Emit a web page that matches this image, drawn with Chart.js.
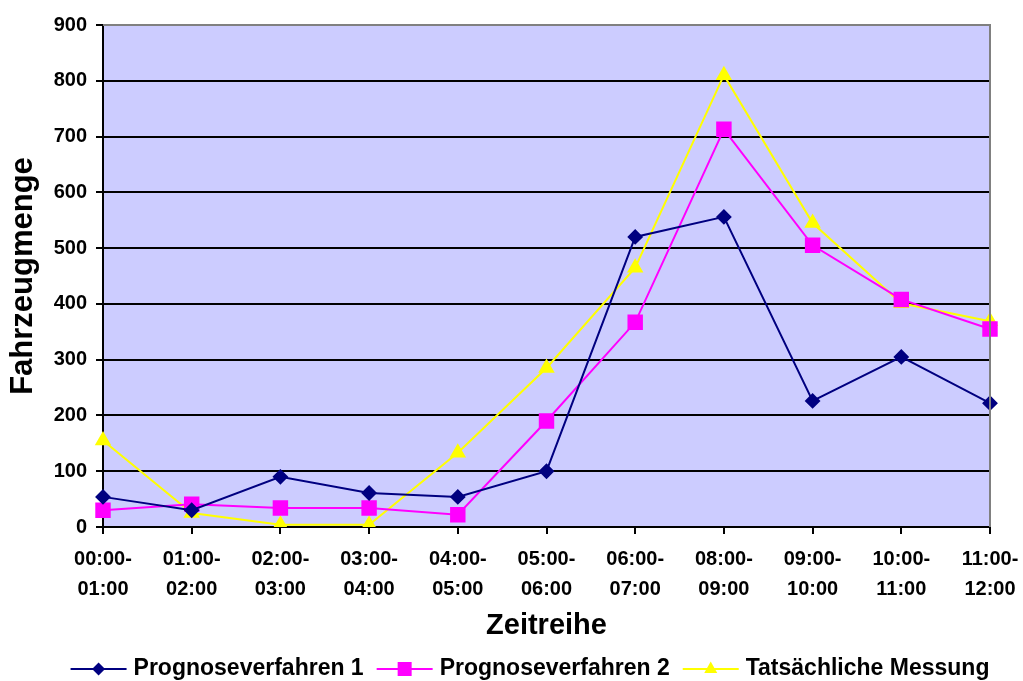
<!DOCTYPE html>
<html>
<head>
<meta charset="utf-8">
<script src="https://cdn.jsdelivr.net/npm/chart.js@4.4.1/dist/chart.umd.min.js"></script>
<style>
  html, body { margin: 0; padding: 0; background: #fff; }
  #wrap { width: 1023px; height: 681px; }
</style>
</head>
<body>
<div id="wrap"><canvas id="chart"></canvas></div>
<script>
// data
const zeiten = [["00:00-", "01:00"], ["01:00-", "02:00"], ["02:00-", "03:00"], ["03:00-", "04:00"], ["04:00-", "05:00"], ["05:00-", "06:00"], ["06:00-", "07:00"], ["08:00-", "09:00"], ["09:00-", "10:00"], ["10:00-", "11:00"], ["11:00-", "12:00"]];
const prognose1 = [54, 30, 90, 61, 54, 100, 520, 556, 226, 305, 222];
const prognose2 = [30, 41, 34, 34, 22, 190, 367, 713, 505, 408, 355];
const messung = [155, 25, 4, 4, 133, 285, 465, 810, 545, 401, 369];
const yTicks = [0, 100, 200, 300, 400, 500, 600, 700, 800, 900];

const FONT = "'Liberation Sans', Arial, sans-serif";

function drawMarker(ctx, style, x, y) {
  ctx.beginPath();
  if (style === "rectRot") {
    ctx.moveTo(x, y - 6.5); ctx.lineTo(x + 6.5, y); ctx.lineTo(x, y + 6.5); ctx.lineTo(x - 6.5, y);
  } else if (style === "rect") {
    ctx.rect(x - 7, y - 7, 14, 14);
  } else {
    ctx.moveTo(x, y - 7.5); ctx.lineTo(x + 6.5, y + 4); ctx.lineTo(x - 6.5, y + 4);
  }
  ctx.closePath();
  ctx.fill();
}

const plotBg = {
  id: "plotBg",
  beforeDraw(chart) {
    const { ctx, chartArea: { left, top, right, bottom } } = chart;
    ctx.save();
    ctx.fillStyle = "#CCCCFF";
    ctx.fillRect(left, top, right - left, bottom - top);
    ctx.restore();
  },
  afterDatasetsDraw(chart) {
    const { ctx, chartArea: { left, top, right, bottom } } = chart;
    ctx.save();
    ctx.strokeStyle = "#808080";
    ctx.lineWidth = 2;
    ctx.beginPath();
    ctx.moveTo(left, top);
    ctx.lineTo(right, top);
    ctx.lineTo(right, bottom);
    ctx.stroke();
    ctx.restore();
  },
  // legend like the excel one: line with marker, then the name
  afterDraw(chart) {
    const ctx = chart.ctx;
    const y = 669;
    ctx.save();
    ctx.font = "bold 23px " + FONT;
    ctx.textBaseline = "middle";
    const items = chart.data.datasets;
    let total = 0;
    items.forEach((ds, i) => {
      total += 56 + 7 + ctx.measureText(ds.label).width + (i < items.length - 1 ? 13 : 0);
    });
    let x = 530 - total / 2;
    items.forEach(ds => {
      ctx.strokeStyle = ds.borderColor;
      ctx.fillStyle = ds.borderColor;
      ctx.lineWidth = 2;
      ctx.beginPath();
      ctx.moveTo(x, y); ctx.lineTo(x + 56, y);
      ctx.stroke();
      drawMarker(ctx, ds.pointStyle, x + 28, y);
      x += 63;
      ctx.fillStyle = "#000";
      ctx.fillText(ds.label, x, y);
      x += ctx.measureText(ds.label).width + 13;
    });
    ctx.restore();
  }
};

new Chart(document.getElementById("chart"), {
  type: "line",
  data: {
    labels: zeiten,
    datasets: [
      {
        label: "Prognoseverfahren 1",
        data: prognose1,
        borderColor: "#000080",
        backgroundColor: "#000080",
        borderWidth: 2,
        pointStyle: "rectRot",
        pointRadius: 6.5,
        pointHoverRadius: 6.5,
      },
      {
        label: "Prognoseverfahren 2",
        data: prognose2,
        borderColor: "#FF00FF",
        backgroundColor: "#FF00FF",
        borderWidth: 2,
        pointStyle: "rect",
        pointRadius: 9.5,
        pointHoverRadius: 9.5,
      },
      {
        label: "Tatsächliche Messung",
        data: messung,
        borderColor: "#FFFF00",
        backgroundColor: "#FFFF00",
        borderWidth: 2,
        pointStyle: "triangle",
        pointRadius: 7.5,
        pointHoverRadius: 7.5,
      },
    ],
  },
  options: {
    responsive: true,
    maintainAspectRatio: false,
    animation: false,
    layout: { padding: { left: 4, right: 33, top: 25, bottom: 0 } },
    elements: { line: { tension: 0 } },
    plugins: {
      tooltip: { enabled: false },
      legend: { display: false },
    },
    scales: {
      x: {
        offset: false,
        grid: {
          display: true,
          drawOnChartArea: false,
          color: "#000",
          lineWidth: 2,
          tickLength: 7,
        },
        border: { display: true, color: "#000", width: 2 },
        ticks: {
          color: "#000",
          maxRotation: 0,
          autoSkip: false,
          padding: 10,
          font: { family: FONT, size: 20, weight: "bold", lineHeight: 1.5 },
        },
        title: {
          display: true,
          text: "Zeitreihe",
          color: "#000",
          font: { family: FONT, size: 29, weight: "bold" },
          padding: { top: 0, bottom: 38 },
        },
        afterFit(scale) {
          scale.height = 681 - 527;
          scale.paddingLeft = 0;
          scale.paddingRight = 0;
        },
      },
      y: {
        min: 0,
        max: 900,
        afterBuildTicks(scale) {
          scale.ticks = yTicks.map(v => ({ value: v }));
        },
        grid: {
          color: "#000",
          lineWidth: 2,
          tickLength: 7,
        },
        border: { display: true, color: "#000", width: 2 },
        ticks: {
          color: "#000",
          padding: 9,
          font: { family: FONT, size: 20, weight: "bold" },
        },
        title: {
          display: true,
          text: "Fahrzeugmenge",
          color: "#000",
          font: { family: FONT, size: 31, weight: "bold" },
          padding: { top: 1, bottom: 0 },
        },
        afterFit(scale) {
          scale.width = 99;
        },
      },
    },
  },
  plugins: [plotBg],
});
</script>
</body>
</html>
